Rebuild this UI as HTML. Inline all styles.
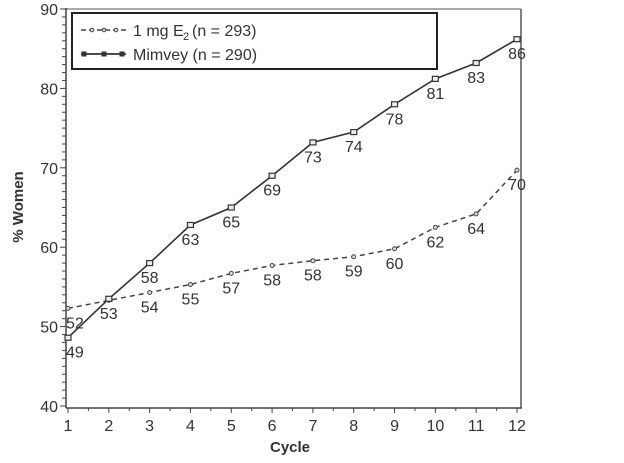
<!DOCTYPE html>
<html><head><style>body{margin:0;background:#fff}svg{display:block}text{font-family:"Liberation Sans",sans-serif;fill:#333}</style></head>
<body>
<svg width="624" height="463" viewBox="0 0 624 463" xmlns="http://www.w3.org/2000/svg">
<g id="g"></g>
<script>
const ns="http://www.w3.org/2000/svg",g=document.getElementById('g');
function el(t,a,txt){const e=document.createElementNS(ns,t);for(const k in a)e.setAttribute(k,a[k]);if(txt!=null)e.textContent=txt;g.appendChild(e);return e;}
const X=i=>68+(i-1)*(449/11), Y=v=>9+(90-v)*7.94;
el('line',{x1:66,y1:9,x2:521,y2:9,stroke:'#777','stroke-width':1.2});
el('line',{x1:521,y1:9,x2:521,y2:408,stroke:'#555','stroke-width':1.5});
el('line',{x1:66,y1:8,x2:66,y2:408,stroke:'#444','stroke-width':1.5});
el('line',{x1:66,y1:408,x2:522,y2:408,stroke:'#444','stroke-width':1.5});
for(let v=40;v<=90;v++){const y=Y(v);el('line',{x1:v%10?62:60,y1:y,x2:66,y2:y,stroke:'#444','stroke-width':1});}
[40,50,60,70,80,90].forEach(v=>el('text',{x:58,y:Y(v)+6,'font-size':16,'text-anchor':'end'},v));
for(let i=1;i<=12;i++){el('line',{x1:X(i),y1:408,x2:X(i),y2:413,stroke:'#444'});el('text',{x:X(i),y:431,'font-size':16,'text-anchor':'middle'},i);
 if(i<12){el('line',{x1:X(i+0.5),y1:408,x2:X(i+0.5),y2:411,stroke:'#444'});}}
el('text',{x:290,y:452,'font-size':15,'font-weight':'bold','text-anchor':'middle'},'Cycle');
el('text',{x:0,y:0,'font-size':15,'font-weight':'bold','text-anchor':'middle',transform:'translate(23,207) rotate(-90)'},'% Women');
const m=[48.6,53.5,58,62.8,65,69,73.2,74.5,78,81.2,83.2,86.2],ml=[49,53,58,63,65,69,73,74,78,81,83,86];
const e=[52.3,53.3,54.3,55.3,56.7,57.7,58.3,58.8,59.8,62.5,64.2,69.7],elb=[52,null,54,55,57,58,58,59,60,62,64,70];
el('polyline',{points:e.map((v,i)=>X(i+1)+','+Y(v)).join(' '),fill:'none',stroke:'#444','stroke-width':1.5,'stroke-dasharray':'5,4'});
el('polyline',{points:m.map((v,i)=>X(i+1)+','+Y(v)).join(' '),fill:'none',stroke:'#333','stroke-width':1.6});
e.forEach((v,i)=>el('circle',{cx:X(i+1),cy:Y(v),r:2,fill:'#ddd',stroke:'#444','stroke-width':1}));
m.forEach((v,i)=>el('rect',{x:X(i+1)-3,y:Y(v)-2.5,width:6,height:5,fill:'#eee',stroke:'#333','stroke-width':1.2}));
e.forEach((v,i)=>{if(elb[i]!=null)el('text',{x:X(i+1)+(i==0?-2:0),y:Y(v)+20,'font-size':16,'text-anchor':i==0?'start':'middle'},elb[i]);});
m.forEach((v,i)=>el('text',{x:X(i+1)+(i==0?-2:0),y:Y(v)+20,'font-size':16,'text-anchor':i==0?'start':'middle'},ml[i]));
el('rect',{x:72,y:13,width:365,height:56,fill:'#fff',stroke:'#222','stroke-width':2});
el('line',{x1:81,y1:30,x2:126,y2:30,stroke:'#444','stroke-width':1.5,'stroke-dasharray':'5,3'});
[92,104,116].forEach(x=>el('circle',{cx:x,cy:30,r:1.8,fill:'#ddd',stroke:'#444'}));
el('text',{x:133,y:36,'font-size':16},'1 mg E');el('text',{x:183,y:40,'font-size':11},'2');
el('text',{x:192,y:36,'font-size':16},'(n = 293)');
el('line',{x1:81,y1:54,x2:126,y2:54,stroke:'#333','stroke-width':1.8});
[84,104,122].forEach(x=>el('rect',{x:x-2.5,y:51.5,width:5,height:5,fill:'#333'}));
el('text',{x:133,y:60,'font-size':16},'Mimvey (n = 290)');
</script>
</svg>
</body></html>
